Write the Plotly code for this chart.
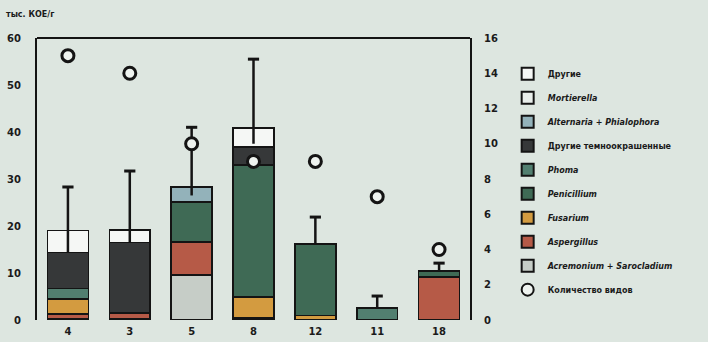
import plotly.graph_objects as go

categories = ["4", "3", "5", "8", "12", "11", "18"]

# stacked components, thousand CFU/g (bottom to top)
acrem_saro = [0.3, 0.3, 9.6, 0.4, 0, 0, 0]
aspergillus = [1.0, 1.2, 7.0, 0, 0, 0, 9.2]
fusarium = [3.2, 0, 0, 4.5, 1.0, 0, 0]
penicillium = [0, 0, 8.5, 28.1, 15.2, 0, 1.2]
phoma = [2.2, 0, 0, 0, 0, 2.6, 0]
other_dark = [7.7, 15.0, 0, 3.8, 0, 0, 0]
acrem_phial = [0, 0, 3.2, 0, 0, 0, 0]
mortierella = [0, 0, 0, 0, 0, 0, 0]
others = [4.6, 2.6, 0, 4.1, 0, 0, 0]

# whiskers (error bars), thousand CFU/g
whisker_low = [14.4, 16.5, 26.5, 37.5, 16.2, 2.6, 10.4]
whisker_high = [28.3, 31.7, 41.0, 55.5, 21.9, 5.1, 12.1]

# number of species (right axis)
species_count = [15, 14, 10, 9, 9, 7, 4]

series = [
    ("<i>Acremonium + Sarocladium</i>", acrem_saro, "#c6cdc7"),
    ("<i>Aspergillus</i>", aspergillus, "#b65a47"),
    ("<i>Fusarium</i>", fusarium, "#d39b40"),
    ("<i>Penicillium</i>", penicillium, "#3f6a55"),
    ("<i>Phoma</i>", phoma, "#527f70"),
    ("Другие темноокрашенные", other_dark, "#363839"),
    ("<i>Alternaria + Phialophora</i>", acrem_phial, "#93b2ba"),
    ("<i>Mortierella</i>", mortierella, "#e9eeeb"),
    ("Другие", others, "#f5f7f5"),
]

bg = "#dde6e0"
ink = "#141414"
fig = go.Figure()

n = len(series)
for i, (name, vals, col) in enumerate(series):
    fig.add_trace(go.Bar(
        x=categories, y=vals, name=name, width=0.66, legendgroup=f"g{i}",
        legendrank=n - i,
        marker=dict(color=col, line=dict(color=ink, width=1.5)),
    ))

fig.add_trace(go.Scatter(
    x=categories, y=species_count, yaxis="y2", mode="markers",
    name="Количество видов", legendgroup="gs", legendrank=n + 1,
    marker=dict(symbol="circle", size=12, color="#eef3ef",
                line=dict(color=ink, width=3)),
))

wx, wy = [], []
for c, lo, hi in zip(categories, whisker_low, whisker_high):
    wx += [c, c, None]
    wy += [lo, hi, None]
fig.add_trace(go.Scatter(x=wx, y=wy, mode="lines", showlegend=False,
                         line=dict(color=ink, width=2.5), hoverinfo="skip"))
fig.add_trace(go.Scatter(x=categories, y=whisker_high, mode="markers", showlegend=False,
                         marker=dict(symbol="line-ew-open", size=8, color=ink,
                                     line=dict(color=ink, width=3)),
                         hoverinfo="skip"))

tickfont = dict(family="DejaVu Sans", size=10, color="#1a1a1a", weight="bold")
fig.update_layout(
    width=708, height=342,
    margin=dict(l=37, r=238, t=38, b=22),
    paper_bgcolor=bg, plot_bgcolor=bg,
    barmode="stack", bargap=0.34,
    showlegend=True,
    legend=dict(x=1.087, xanchor="left", y=0.925, yanchor="top",
                traceorder="grouped", bgcolor="rgba(0,0,0,0)",
                font=dict(family="DejaVu Sans", size=8, color="#1a1a1a", weight="bold"),
                tracegroupgap=5, itemsizing="constant", itemwidth=30),
    xaxis=dict(range=[-0.5, 6.5], showline=False, showgrid=False, zeroline=False,
               tickfont=tickfont, ticks="", ticklabelstandoff=4, automargin=False),
    yaxis=dict(range=[0, 60], dtick=10, showgrid=False, zeroline=False,
               showline=True, linecolor=ink, linewidth=2, automargin=False,
               ticks="", tickfont=tickfont, ticklabelstandoff=12),
    yaxis2=dict(range=[0, 16], dtick=2, overlaying="y", side="right",
                showgrid=False, zeroline=False, showline=True, automargin=False,
                linecolor=ink, linewidth=2, ticks="",
                tickfont=tickfont, ticklabelstandoff=10),
    annotations=[dict(text="<b>тыс. КОЕ/г</b>", xref="paper", yref="paper",
                      x=-0.077, y=1.06, xanchor="left", yanchor="bottom",
                      showarrow=False,
                      font=dict(family="DejaVu Sans", size=8, color="#1a1a1a"))],
    shapes=[dict(type="line", xref="paper", yref="paper", x0=0, x1=1, y0=1, y1=1,
                 line=dict(color=ink, width=2))],
)

fig.write_html(
    "out.html",
    config={"displayModeBar": False},
    post_script="document.body.style.margin='0';document.body.style.background='%s';" % bg,
)
